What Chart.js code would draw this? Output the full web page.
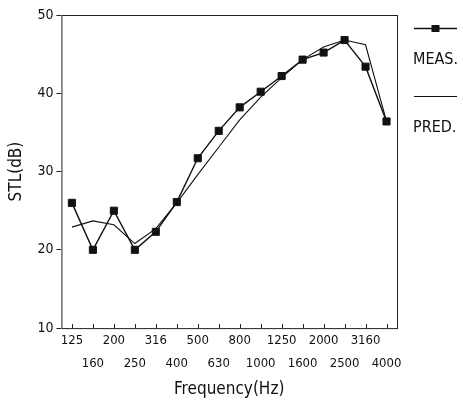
<!DOCTYPE html>
<html>
<head>
<meta charset="utf-8">
<script src="https://cdn.jsdelivr.net/npm/chart.js@4.4.1/dist/chart.umd.min.js"></script>
<style>
  html, body { margin: 0; padding: 0; background: #fff; }
  #wrap { width: 463px; height: 404px; position: relative; }
</style>
</head>
<body>
<div id="wrap"><canvas id="stlChart"></canvas></div>
<script>
const frequencies = ['125', '160', '200', '250', '316', '400', '500', '630', '800', '1000', '1250', '1600', '2000', '2500', '3160', '4000'];
const measured = [26, 20, 25, 20, 22.3, 26.1, 31.7, 35.2, 38.2, 40.2, 42.2, 44.3, 45.2, 46.8, 43.4, 36.4];
const predicted = [22.9, 23.7, 23.2, 20.8, 22.7, 26, 29.6, 33.1, 36.6, 39.5, 42, 44.3, 45.9, 46.8, 46.2, 36.4];
const yTicks = [10, 20, 30, 40, 50];

const FONT = "'DejaVu Sans Condensed', 'Liberation Sans Narrow', 'DejaVu Sans', sans-serif";

// frame around plot area, inward x ticks, and the stacked legend on the right
const framePlugin = {
    id: 'frame',
    afterDraw(chart) {
        const ctx = chart.ctx;
        const a = chart.chartArea;
        ctx.save();
        ctx.strokeStyle = '#222';
        ctx.lineWidth = 1;
        ctx.strokeRect(a.left + 0.5, a.top + 0.5, a.right - a.left, a.bottom - a.top);

        const xs = chart.scales.x;
        ctx.beginPath();
        for (let i = 0; i < frequencies.length; i++) {
            const px = Math.round(xs.getPixelForTick(i)) + 0.5;
            ctx.moveTo(px, a.bottom);
            ctx.lineTo(px, a.bottom - 4);
        }
        ctx.stroke();

        // legend
        const lx1 = a.right + 17, lx2 = a.right + 60;
        const ds = chart.data.datasets;
        let y = 28;
        ds.forEach(function (d) {
            ctx.strokeStyle = '#111';
            ctx.lineWidth = d.borderWidth;
            ctx.beginPath();
            ctx.moveTo(lx1, y + 0.5);
            ctx.lineTo(lx2, y + 0.5);
            ctx.stroke();
            if (d.pointRadius > 0) {
                ctx.fillStyle = '#111';
                ctx.fillRect((lx1 + lx2) / 2 - 4, y - 3, 8, 7);
            }
            ctx.fillStyle = '#111';
            ctx.font = '16px ' + FONT;
            ctx.textBaseline = 'middle';
            ctx.textAlign = 'left';
            ctx.fillText(d.label, a.right + 16, y + 32);
            y += 68;
        });
        ctx.restore();
    }
};

new Chart(document.getElementById('stlChart').getContext('2d'), {
    type: 'line',
    data: {
        labels: frequencies,
        datasets: [
            {
                label: 'MEAS.',
                data: measured,
                borderColor: '#111',
                backgroundColor: '#111',
                borderWidth: 1.4,
                pointStyle: 'rect',
                pointRadius: 5,
                pointBorderWidth: 1,
                pointHoverRadius: 5,
                tension: 0,
                fill: false
            },
            {
                label: 'PRED.',
                data: predicted,
                borderColor: '#111',
                borderWidth: 1.1,
                pointRadius: 0,
                tension: 0,
                fill: false
            }
        ]
    },
    options: {
        responsive: true,
        maintainAspectRatio: false,
        animation: false,
        events: [],
        layout: { padding: { top: 15, right: 66, left: 6, bottom: 4 } },
        plugins: {
            legend: { display: false },
            tooltip: { enabled: false }
        },
        scales: {
            x: {
                offset: true,
                grid: { display: false, drawTicks: false },
                border: { display: false },
                ticks: {
                    autoSkip: false,
                    maxRotation: 0,
                    minRotation: 0,
                    padding: 1,
                    color: '#111',
                    font: { family: FONT, size: 13, lineHeight: 1.75 },
                    callback: function (val, i) {
                        return i % 2 === 0 ? [frequencies[i], ''] : ['', frequencies[i]];
                    }
                },
                title: {
                    display: true,
                    text: 'Frequency(Hz)',
                    color: '#111',
                    font: { family: FONT, size: 17 },
                    padding: { top: 4, bottom: 0 }
                }
            },
            y: {
                min: 10,
                max: 50,
                afterBuildTicks: function (scale) {
                    scale.ticks = yTicks.map(function (v) { return { value: v }; });
                },
                grid: { display: true, drawOnChartArea: false, tickLength: 5, color: '#222' },
                border: { display: false },
                ticks: {
                    padding: 3,
                    color: '#111',
                    font: { family: FONT, size: 14 }
                },
                title: {
                    display: true,
                    text: 'STL(dB)',
                    color: '#111',
                    font: { family: FONT, size: 17 },
                    padding: { top: 0, bottom: 8 }
                }
            }
        }
    },
    plugins: [framePlugin]
});
</script>
</body>
</html>
